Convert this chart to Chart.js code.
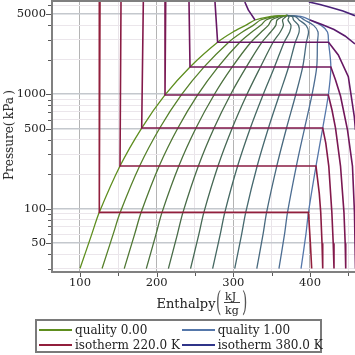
<!DOCTYPE html>
<html><head><meta charset="utf-8">
<script src="https://cdn.jsdelivr.net/npm/chart.js@4/dist/chart.umd.min.js"></script>
<style>
html,body{margin:0;padding:0;background:#fff;overflow:hidden}
#wrap{position:relative;width:355px;height:355px;font-family:"DejaVu Serif",serif;color:#222;overflow:hidden}
#c{position:absolute;left:0;top:0}
.t{position:absolute;white-space:nowrap;line-height:1}
.lg{position:absolute;height:2px}
</style></head><body>
<div id="wrap">
<canvas id="c" width="355" height="300"></canvas>
<div class="t" id="ytitle" style="left:8.7px;top:135px;font-size:12px;transform:translate(-50%,-50%) rotate(-90deg)">Pressure(&#8201;kPa&#8201;)</div>
<div class="t" style="left:156.5px;top:296.5px;font-size:13px">Enthalpy</div>
<div class="t" style="left:216px;top:288px;font-size:27px;color:#555;transform:scaleX(0.5);transform-origin:left top">(</div>
<div class="t" style="left:225px;top:291px;font-size:11px">kJ</div>
<div style="position:absolute;left:224px;top:302px;width:16px;height:1px;background:#444"></div>
<div class="t" style="left:225px;top:305px;font-size:11px">kg</div>
<div class="t" style="left:242px;top:288px;font-size:27px;color:#555;transform:scaleX(0.5);transform-origin:left top">)</div>
<div id="legend" style="position:absolute;left:35px;top:319px;width:283px;height:30px;border:2px solid #7a7a7a;background:#fff"></div>
</div>
<script>
// ---- axis setup ----
const xTicks = [100,150,200,250,300,350,400,450];
const xLabels = [100,200,300,400];
const yTicks = [30,40,50,60,70,80,90,100,200,300,400,500,600,700,800,900,1000,2000,3000,4000,5000,6000];
const yLabels = [50,100,500,1000,5000];

// ---- quality lines: pressure (kPa) levels and enthalpy (kJ/kg) at each level ----
const satP = [30, 60, 93, 236, 507, 986, 1733, 2850, 3500, 4000, 4457, 4750, 4900];
const qualityNames = ['quality 0.00','quality 0.10','quality 0.20','quality 0.30','quality 0.40','quality 0.50','quality 0.60','quality 0.70','quality 0.80','quality 0.90','quality 1.00'];
const hQ00 = [100.0, 115.4, 125.2, 152.2, 180.5, 210.9, 243.5, 279.5, 299.5, 316.0, 328.3, 346.0, 370];
const hQ01 = [128.8, 143.3, 152.5, 177.8, 204.1, 232.2, 261.9, 294.0, 311.8, 325.9, 335.5, 350.4, 370];
const hQ02 = [157.7, 171.3, 179.8, 203.3, 227.7, 253.5, 280.2, 308.4, 324.2, 335.7, 342.6, 354.9, 370];
const hQ03 = [186.5, 199.2, 207.0, 228.9, 251.3, 274.8, 298.6, 322.9, 336.5, 345.6, 349.8, 359.3, 370];
const hQ04 = [215.3, 227.1, 234.3, 254.4, 274.9, 296.1, 317.0, 337.4, 348.8, 355.4, 357.0, 363.8, 370];
const hQ05 = [244.2, 255.1, 261.6, 280.0, 298.6, 317.4, 335.4, 351.9, 361.2, 365.3, 364.2, 368.2, 370];
const hQ06 = [273.0, 283.0, 288.9, 305.6, 322.2, 338.7, 353.7, 366.3, 373.5, 375.2, 371.3, 372.6, 370];
const hQ07 = [301.8, 310.9, 316.2, 331.1, 345.8, 360.0, 372.1, 380.8, 385.8, 385.0, 378.5, 377.1, 370];
const hQ08 = [330.6, 338.8, 343.4, 356.7, 369.4, 381.3, 390.5, 395.3, 398.1, 394.9, 385.7, 381.5, 370];
const hQ09 = [359.5, 366.8, 370.7, 382.2, 393.0, 402.6, 408.8, 409.7, 410.5, 404.7, 392.8, 386.0, 370];
const hQ10 = [388.3, 394.7, 398.0, 407.8, 416.6, 423.9, 427.2, 424.2, 422.8, 414.6, 400.0, 390.4, 370];
const qualityH = [hQ00,hQ01,hQ02,hQ03,hQ04,hQ05,hQ06,hQ07,hQ08,hQ09,hQ10];
const qualityColors = ['#5e8e1e','#56812a','#4f7733','#4b703d','#486b48','#466854','#456862','#46696f','#48697e','#4c6d92','#5577aa'];

// ---- isotherms: enthalpy (kJ/kg) and pressure (kPa); null = gap ----
const isoNames = ['isotherm 220.0 K','isotherm 240.0 K','isotherm 260.0 K','isotherm 280.0 K','isotherm 300.0 K','isotherm 320.0 K','isotherm 340.0 K','isotherm 360.0 K','isotherm 380.0 K'];
const t220H = [126.1, 125.2, 398.0, 400.5, 402.2];
const t220P = [6400, 93, 93, 50, 30];
const t240H = [153.5, 152.2, 407.8, 412.1, 414.0, 415.7, 416.6];
const t240P = [6400, 236, 236, 136, 93, 50, 30];
const t260H = [182.6, 180.5, 416.6, 420.6, 424.5, 428.5, 430.3, 431.3];
const t260P = [6400, 507, 507, 375, 236, 93, 50, 30];
const t280H = [211.8, 210.9, 423.9, 428.7, 433.3, 439.8, 444.3, 445.9, 446.6];
const t280P = [6400, 986, 986, 729, 507, 236, 93, 50, 30];
const t300H = [242.2, 243.5, 427.2, 433.3, 439.8, 448.9, 455.4, 458.0, 459.3];
const t300P = [6400, 1733, 1733, 1334, 966, 488, 236, 93, 30];
const t320H = [276.1, 279.5, 424.2, 436.9, 450.0, 457.8, 459.3];
const t320P = [6400, 2850, 2850, 2206, 1425, 637, 488];
const t340H = [315.0, 319.5, 323.0, 328.3, null, 400.0, 415.6, 431.3, 445.7, 458.7];
const t340P = [6400, 5457, 5036, 4457, null, 4457, 4074, 3685, 3233, 2752];
const t360H = [398.5, 413.0, 426.1, 443.0, 458.7];
const t360P = [6400, 6096, 5761, 5345, 4864];
const t380H = [];
const t380P = [];
const isoH = [t220H,t240H,t260H,t280H,t300H,t320H,t340H,t360H,t380H];
const isoP = [t220P,t240P,t260P,t280P,t300P,t320P,t340P,t360P,t380P];
const isoColors = ['#921f3c','#8a1c43','#83194b','#7b1853','#72175b','#671763','#5a1a6d','#4a2279','#2f3489'];

const legendItems = [
  {name: qualityNames[0], color: qualityColors[0], col:0, row:0},
  {name: qualityNames[10], color: qualityColors[10], col:1, row:0},
  {name: isoNames[0], color: isoColors[0], col:0, row:1},
  {name: isoNames[8], color: isoColors[8], col:1, row:1}
];

// ---- build datasets ----
const datasets = [];
qualityH.forEach((hs,i)=>{
  datasets.push({label: qualityNames[i], data: hs.map((h,k)=>({x:h, y:satP[k]})),
    borderColor: qualityColors[i], borderWidth:1.3, pointRadius:0, showLine:true, tension:0.3, order:2, fill:false});
});
isoH.forEach((hs,i)=>{
  datasets.push({label: isoNames[i], data: hs.map((h,k)=>({x:h, y:isoP[i][k]})),
    borderColor: isoColors[i], borderWidth:1.6, pointRadius:0, showLine:true, tension:0, spanGaps:false, order:1, fill:false});
});

const tickPlugin = {
  id:'ticksAndFrame',
  afterDraw(chart){
    const {ctx, chartArea:a, scales:{x,y}} = chart;
    ctx.save();
    ctx.strokeStyle='#5a5a5a'; ctx.lineWidth=1;
    yTicks.forEach(v=>{
      const py=Math.round(y.getPixelForValue(v))+0.5;
      const L=yLabels.includes(v)?5:3;
      ctx.beginPath(); ctx.moveTo(a.left-1-L,py); ctx.lineTo(a.left-1,py); ctx.stroke();
    });
    xTicks.forEach(v=>{
      const px=Math.round(x.getPixelForValue(v))+0.5;
      const L=xLabels.includes(v)?4:3;
      ctx.beginPath(); ctx.moveTo(px,a.bottom+1); ctx.lineTo(px,a.bottom+1+L); ctx.stroke();
    });
    ctx.fillStyle='#808080';
    ctx.fillRect(a.left-1,0,a.right-a.left+1,2);
    ctx.restore();
  }
};

const tickFont = {family:'DejaVu Serif', size:11.5};
new Chart(document.getElementById('c'), {
  type:'scatter',
  data:{datasets},
  options:{
    responsive:false, animation:false, devicePixelRatio:1,
    layout:{padding:{top:2,left:0,right:0,bottom:0}},
    plugins:{legend:{display:false}, tooltip:{enabled:false}},
    elements:{point:{radius:0}},
    scales:{
      x:{type:'linear', min:63.5, max:458.7,
        afterBuildTicks:s=>{s.ticks = xTicks.map(v=>({value:v}));},
        afterFit:s=>{s.height=28; s.paddingLeft=0; s.paddingRight=0;},
        ticks:{callback:v=>xLabels.includes(v)?String(v):'', font:tickFont, color:'#222', maxRotation:0, autoSkip:false, padding:1},
        grid:{color:c=>xLabels.includes(c.tick&&c.tick.value)?'#b4b4b4':'#e9e4e9', lineWidth:1, drawTicks:true, tickLength:3, tickColor:'rgba(0,0,0,0)'},
        border:{display:true, color:'#808080', width:2}
      },
      y:{type:'logarithmic', min:28, max:6400,
        afterBuildTicks:s=>{s.ticks = yTicks.map(v=>({value:v}));},
        afterFit:s=>{s.width=52; s.paddingTop=0; s.paddingBottom=0;},
        ticks:{callback:v=>yLabels.includes(v)?String(v):'', font:tickFont, color:'#222', autoSkip:false, padding:1},
        grid:{color:c=>yLabels.includes(c.tick&&c.tick.value)?'#c4c8cd':'#ebe6eb', lineWidth:c=>yLabels.includes(c.tick&&c.tick.value)?1.6:1, drawTicks:true, tickLength:5, tickColor:'rgba(0,0,0,0)'},
        border:{display:true, color:'#808080', width:2}
      }
    }
  },
  plugins:[tickPlugin]
});

// ---- legend ----
const lg = document.getElementById('legend');
legendItems.forEach(it=>{
  const baseX = it.col===0 ? 2 : 144.7;
  const cy = it.row===0 ? 9 : 24;
  const line = document.createElement('div');
  line.className='lg';
  line.style.left=baseX+'px'; line.style.top=(cy-1)+'px'; line.style.width='33px'; line.style.background=it.color;
  lg.appendChild(line);
  const tx = document.createElement('div');
  tx.className='t';
  tx.style.left=(baseX+36)+'px'; tx.style.top=(cy-6.5)+'px'; tx.style.fontSize='12px';
  tx.textContent=it.name;
  lg.appendChild(tx);
});
</script>
</body></html>
